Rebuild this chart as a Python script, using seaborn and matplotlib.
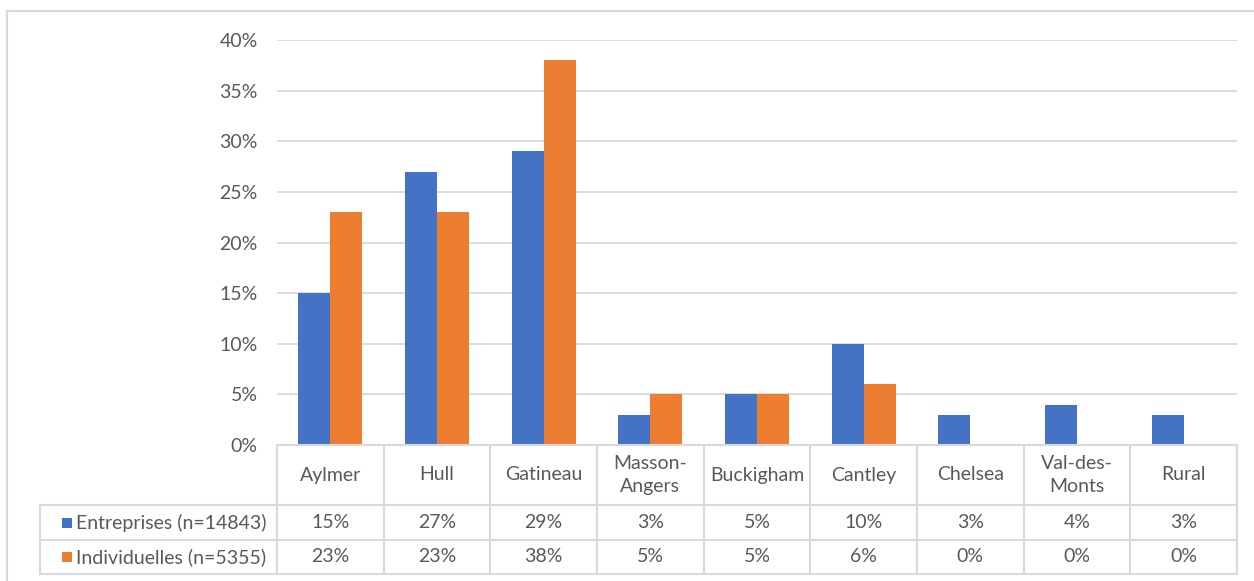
import pandas as pd
import matplotlib.pyplot as plt
import seaborn as sns

# donnees du graphique
secteurs = ['Aylmer', 'Hull', 'Gatineau', 'Masson-\nAngers', 'Buckigham',
            'Cantley', 'Chelsea', 'Val-des-\nMonts', 'Rural']
series = ['Entreprises (n=14843)', 'Individuelles (n=5355)']
entreprises = [15, 27, 29, 3, 5, 10, 3, 4, 3]
individuelles = [23, 23, 38, 5, 5, 6, 0, 0, 0]
couleurs = ['#4472C4', '#ED7D31']
yticks = [0, 5, 10, 15, 20, 25, 30, 35, 40]

df = pd.DataFrame({
    'secteur': secteurs * 2,
    'serie': [series[0]] * len(secteurs) + [series[1]] * len(secteurs),
    'valeur': [v / 100 for v in entreprises + individuelles],
})

sns.set_theme(style='white')
plt.rcParams['font.family'] = ['Lato', 'DejaVu Sans']
gris_txt = '#595959'
gris_ligne = '#d9d9d9'
taille = 14

W, H = 1254, 581
fig = plt.figure(figsize=(W / 100, H / 100), dpi=100)

# cadre du graphique
fig.add_artist(plt.Line2D([7 / W, 7 / W], [0, 1 - 11 / H], transform=fig.transFigure,
                          color=gris_ligne, lw=1.5))
fig.add_artist(plt.Line2D([7 / W, 1], [1 - 11 / H, 1 - 11 / H], transform=fig.transFigure,
                          color=gris_ligne, lw=1.5))

x0, x1 = 277, 1237
y_bas, y_haut = 445, 40
ax = fig.add_axes([x0 / W, 1 - y_bas / H, (x1 - x0) / W, (y_bas - y_haut) / H])
sns.barplot(data=df, x='secteur', y='valeur', hue='serie', palette=couleurs,
            width=0.6, linewidth=0, saturation=1, legend=False, ax=ax)
ax.set_xlim(-0.5, len(secteurs) - 0.5)
ax.set_ylim(0, 0.40)
ax.set_yticks([t / 100 for t in yticks])
ax.set_yticklabels([f'{t}%' for t in yticks])
ax.tick_params(axis='y', length=0, pad=14, labelsize=taille, labelcolor=gris_txt)
ax.set_xticks([])
ax.set_xlabel('')
ax.set_ylabel('')
ax.grid(axis='y', color=gris_ligne, lw=1.3)
ax.set_axisbelow(True)
for s in ax.spines.values():
    s.set_visible(False)

# tableau de donnees sous le graphique
t_gauche, t_bas = 40, 574
ax_t = fig.add_axes([t_gauche / W, 1 - t_bas / H, (x1 - t_gauche) / W, (t_bas - y_bas) / H])
pas = (x1 - x0) / len(secteurs)
ax_t.set_xlim(len(secteurs) - 0.5 - (x1 - t_gauche) / pas, len(secteurs) - 0.5)
ax_t.set_ylim(t_bas - y_bas, 0)
ax_t.axis('off')
xg = ax_t.get_xlim()[0]
lignes = [0, 60, 95, 129]
kw = dict(color=gris_ligne, lw=1.5, clip_on=False)
ax_t.plot([-0.5, len(secteurs) - 0.5], [lignes[0]] * 2, **kw)
for y in lignes[1:]:
    ax_t.plot([xg, len(secteurs) - 0.5], [y, y], **kw)
for i in range(len(secteurs) + 1):
    ax_t.plot([i - 0.5, i - 0.5], [lignes[0], lignes[3]], **kw)
ax_t.plot([xg, xg], [lignes[1], lignes[3]], **kw)

for i, s in enumerate(secteurs):
    ax_t.text(i, (lignes[0] + lignes[1]) / 2, s, ha='center', va='center',
              fontsize=taille, color=gris_txt, linespacing=1.4)
    for r, vals in enumerate([entreprises, individuelles]):
        ax_t.text(i, (lignes[r + 1] + lignes[r + 2]) / 2, f'{vals[i]}%', ha='center',
                  va='center', fontsize=taille, color=gris_txt)

for r, (nom, c) in enumerate(zip(series, couleurs)):
    ym = (lignes[r + 1] + lignes[r + 2]) / 2
    ax_t.scatter([xg + 0.25], [ym], marker='s', s=60, color=c, linewidths=0, clip_on=False)
    ax_t.text(xg + 0.34, ym, nom, ha='left', va='center', fontsize=taille, color=gris_txt)

fig.savefig('out.png', dpi=100)
